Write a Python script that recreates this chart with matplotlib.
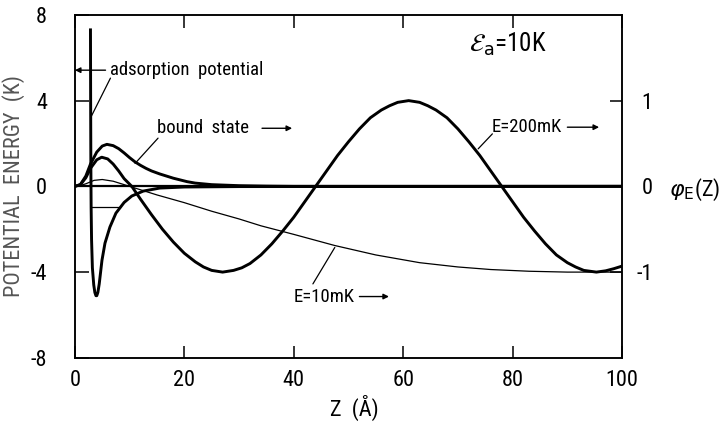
import matplotlib
matplotlib.use("Agg")
import matplotlib.pyplot as plt
import logging
logging.getLogger('matplotlib.font_manager').setLevel(logging.ERROR)

plt.rcParams['font.family'] = ['Roboto Condensed', 'Liberation Sans Narrow', 'Liberation Sans', 'DejaVu Sans']
plt.rcParams['mathtext.fontset'] = 'dejavusans'

# ---- data ----
# adsorption potential, K
pot_z = [2.85, 2.88, 2.92, 2.97, 3.05, 3.2, 3.45, 3.65, 3.85, 4.0, 4.2, 4.45, 4.7, 4.95,
         5.5, 6.4, 7.5, 9.0, 10.4, 12.5, 15.5, 20, 30, 100]
pot_v = [7.3, 4.0, 1.0, -1.0, -2.5, -3.8, -4.6, -4.95, -5.1, -5.1, -4.95, -4.55, -4.0,
         -3.45, -2.65, -1.9, -1.25, -0.75, -0.45, -0.22, -0.08, -0.03, -0.01, 0.0]

# bound state level, K
level_z = [2.9, 8.2]
level_v = [-0.98, -0.98]

# wavefunctions phi_E(Z)
bound_z = [0, 1, 2, 2.85, 4, 5, 5.85, 7, 8, 9, 10, 11, 12, 13, 14, 15.5, 18, 20.5, 22,
           25, 30, 35, 40, 100]
bound_phi = [0, 0.02, 0.12, 0.26, 0.40, 0.47, 0.49, 0.475, 0.44, 0.39, 0.335, 0.285,
             0.245, 0.21, 0.18, 0.145, 0.095, 0.055, 0.038, 0.02, 0.008, 0.003, 0.0, 0.0]

e200_z = [0, 1, 2, 2.85, 4, 4.9, 6, 7, 8, 9, 10.4, 12, 14, 16, 18, 20, 22, 23.5, 25,
          27, 29, 30.5, 32, 34, 36, 38, 40, 42, 44, 46, 48, 50, 52, 54, 56, 57.5, 59,
          61, 63, 64.5, 66, 68, 70, 72, 74, 76, 78, 80, 82, 84, 86, 88, 90, 91.5, 93,
          95.3, 97, 98.5, 100]
e200_phi = [0, 0.02, 0.10, 0.21, 0.31, 0.34, 0.32, 0.26, 0.18, 0.09, 0.0, -0.15, -0.33,
            -0.50, -0.65, -0.78, -0.88, -0.94, -0.98, -1.0, -0.98, -0.95, -0.90, -0.80,
            -0.67, -0.52, -0.36, -0.18, 0.0, 0.18, 0.36, 0.52, 0.67, 0.80, 0.89, 0.94,
            0.98, 1.0, 0.98, 0.94, 0.89, 0.80, 0.67, 0.52, 0.36, 0.18, 0.0, -0.18, -0.36,
            -0.52, -0.67, -0.80, -0.89, -0.94, -0.98, -1.0, -0.985, -0.96, -0.93]

e10_z = [0, 1, 2, 3.5, 5, 7, 9, 10, 15, 20, 25, 30, 34, 40, 47.5, 55, 63, 70, 76, 83,
         90, 100]
e10_phi = [0, 0.01, 0.03, 0.07, 0.08, 0.06, 0.02, 0.0, -0.10, -0.19, -0.29, -0.38, -0.46,
           -0.56, -0.69, -0.80, -0.89, -0.94, -0.97, -0.99, -1.0, -1.0]

x_ticks = [0, 20, 40, 60, 80, 100]
y_ticks = [-8, -4, 0, 4, 8]
phi_ticks = [-1, 0, 1]

# ---- figure ----
fig = plt.figure(figsize=(7.2, 4.25), dpi=100)
ax = fig.add_axes([0.104, 0.158, 0.76, 0.807])
ax2 = ax.twinx()

thick = 2.1
thin = 0.9

ax.plot(pot_z, pot_v, color='black', lw=thick, solid_joinstyle='round')
ax.plot(level_z, level_v, color='black', lw=thin)
ax.axhline(0, color='black', lw=1.6)

ax2.plot(bound_z, bound_phi, color='black', lw=thick, solid_joinstyle='round')
ax2.plot(e200_z, e200_phi, color='black', lw=thick, solid_joinstyle='round')
ax2.plot(e10_z, e10_phi, color='black', lw=thin)

ax.set_xlim(0, 100)
ax.set_ylim(-8, 8)
ax2.set_ylim(-2, 2)

ax.set_xticks(x_ticks)
ax.set_yticks(y_ticks)
ax.set_yticklabels([str(v) for v in y_ticks])
ax2.set_yticks(phi_ticks)
ax2.set_yticklabels([str(v) for v in phi_ticks])

for a in (ax, ax2):
    for s in a.spines.values():
        s.set_linewidth(1.1)

tl = 16
ax.tick_params(axis='x', which='both', direction='in', length=9, width=1.1, top=True,
               labelsize=tl, pad=9, colors='black')
ax.tick_params(axis='y', direction='in', length=10, width=1.1, labelsize=tl, pad=20)
ax2.tick_params(axis='y', direction='in', length=9, width=1.1, labelsize=tl, pad=22)
for lab in ax2.get_yticklabels():
    lab.set_horizontalalignment('right')

ax.set_xlabel('Z  (Å)', fontsize=16)
ax.xaxis.set_label_coords(0.51, -0.108)
ax.xaxis.label.set_verticalalignment('top')
ax.set_ylabel('POTENTIAL  ENERGY  (K)', fontsize=16, color='#555555', labelpad=4)

# right-axis label
ax2.text(1.086, 0.49, r'$\varphi_{\mathrm{E}}$(Z)', transform=ax.transAxes, fontsize=16,
         ha='left', va='center')

# epsilon label
ax.text(72.0, 6.6, r'$\mathcal{E}_{\mathrm{a}}$=10K', fontsize=18, ha='left', va='center')

fs = 13.5
arrow_kw = dict(arrowstyle='-|>', lw=1.0, color='black', mutation_scale=8, shrinkA=0, shrinkB=0)
line_kw = dict(arrowstyle='-', lw=0.9, color='black', shrinkA=0, shrinkB=0)

# adsorption potential
ax.text(6.4, 5.42, 'adsorption  potential', fontsize=fs, ha='left', va='center')
ax.annotate('', xy=(0.0, 5.42), xytext=(5.6, 5.42), arrowprops=arrow_kw)
ax.annotate('', xy=(2.87, 3.2), xytext=(6.5, 5.05), arrowprops=line_kw)

# bound state
ax.text(15.0, 2.71, 'bound  state', fontsize=fs, ha='left', va='center')
ax.annotate('', xy=(39.7, 2.71), xytext=(34.2, 2.71), arrowprops=arrow_kw)
ax.annotate('', xy=(11.0, 1.07), xytext=(15.2, 2.25), arrowprops=line_kw)

# E = 200 mK
ax.text(76.2, 2.76, 'E=200mK', fontsize=fs, ha='left', va='center')
ax.annotate('', xy=(95.8, 2.76), xytext=(90.0, 2.76), arrowprops=arrow_kw)
ax.annotate('', xy=(73.7, 1.75), xytext=(76.3, 2.45), arrowprops=line_kw)

# E = 10 mK
ax.text(39.9, -5.14, 'E=10mK', fontsize=fs, ha='left', va='center')
ax.annotate('', xy=(57.4, -5.14), xytext=(52.0, -5.14), arrowprops=arrow_kw)
ax.annotate('', xy=(47.5, -2.85), xytext=(43.5, -4.55), arrowprops=line_kw)

fig.savefig('out.png', dpi=100)
